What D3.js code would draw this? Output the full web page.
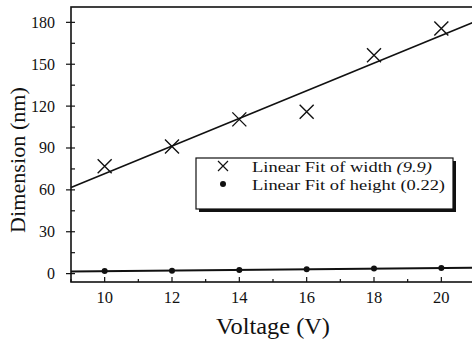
<!DOCTYPE html>
<html>
<head>
<meta charset="UTF-8">
<style>
  body { margin: 0; background: white; }
</style>
</head>
<body>
<svg id="chart" width="472" height="341"></svg>
<script src="https://d3js.org/d3.v7.min.js"></script>
<script>
// data
let voltage = [10, 12, 14, 16, 18, 20];
let widthNm = [77, 91, 110.5, 116, 156.5, 175.6];
let heightNm = [1.8, 2.1, 2.6, 3.1, 3.6, 4.0];
let fits = [
  {name: "width", slope: 9.9, label: "Linear Fit of width ", tag: "(9.9)"},
  {name: "height", slope: 0.22, label: "Linear Fit of height ", tag: "(0.22)"}
];
let xTicks = [10, 12, 14, 16, 18, 20];
let yTicks = [0, 30, 60, 90, 120, 150, 180];

let serif = "'Liberation Serif', 'Times New Roman', Tinos, Times, serif";
let svg = d3.select("#chart").attr("font-family", serif);
let mLeft = 71, mRight = 475, mTop = 7, mBottom = 282;

let x = d3.scaleLinear().domain([9, 21]).range([mLeft, mRight]);
let y = d3.scaleLinear().domain([-6, 191]).range([mBottom, mTop]);

// least squares intercept using given slope
function fitLine(xs, ys, slope) {
  let mx = d3.mean(xs), my = d3.mean(ys);
  let b = my - slope * mx;
  return [[9, b + slope * 9], [21, b + slope * 21]];
}

// frame
svg.append("rect")
  .attr("x", mLeft).attr("y", mTop)
  .attr("width", mRight - mLeft).attr("height", mBottom - mTop)
  .attr("fill", "none").attr("stroke", "#111").attr("stroke-width", 1.6);

// y axis ticks
let yMinor = d3.range(15, 181, 30);
svg.append("g").selectAll("line").data(yTicks).enter().append("line")
  .attr("x1", mLeft - 5).attr("x2", mLeft + 4)
  .attr("y1", d => y(d)).attr("y2", d => y(d))
  .attr("stroke", "#111").attr("stroke-width", 1.2);
svg.append("g").selectAll("line").data(yMinor).enter().append("line")
  .attr("x1", mLeft).attr("x2", mLeft + 4)
  .attr("y1", d => y(d)).attr("y2", d => y(d))
  .attr("stroke", "#111").attr("stroke-width", 1.2);
svg.append("g").selectAll("text").data(yTicks).enter().append("text")
  .attr("x", mLeft - 16).attr("y", d => y(d) + 5.5)
  .attr("text-anchor", "end").attr("font-size", 16)
  .attr("fill", "#111")
  .text(d => d);

// x axis ticks
let xMinor = [9, 11, 13, 15, 17, 19, 21];
svg.append("g").selectAll("line").data(xTicks).enter().append("line")
  .attr("x1", d => x(d)).attr("x2", d => x(d))
  .attr("y1", mBottom).attr("y2", mBottom - 5)
  .attr("stroke", "#111").attr("stroke-width", 1.2);
svg.append("g").selectAll("line").data(xMinor).enter().append("line")
  .attr("x1", d => x(d)).attr("x2", d => x(d))
  .attr("y1", mBottom).attr("y2", mBottom - 3)
  .attr("stroke", "#111").attr("stroke-width", 1.2);
svg.append("g").selectAll("text").data(xTicks).enter().append("text")
  .attr("x", d => x(d)).attr("y", mBottom + 21)
  .attr("text-anchor", "middle").attr("font-size", 16.5)
  .attr("fill", "#111")
  .text(d => d);

// axis titles
svg.append("text")
  .attr("x", (mLeft + mRight) / 2).attr("y", 334)
  .attr("text-anchor", "middle").attr("font-size", 24)
  .attr("textLength", 114).attr("lengthAdjust", "spacingAndGlyphs")
  .attr("fill", "#111")
  .text("Voltage (V)");
svg.append("text")
  .attr("transform", "translate(25,160) rotate(-90)")
  .attr("text-anchor", "middle").attr("font-size", 22)
  .attr("textLength", 146).attr("lengthAdjust", "spacingAndGlyphs")
  .attr("fill", "#111")
  .text("Dimension (nm)");

// fit lines
let line = d3.line().x(d => x(d[0])).y(d => y(d[1]));
let plot = svg.append("g");
plot.append("path")
  .attr("d", line(fitLine(voltage, widthNm, fits[0].slope)))
  .attr("fill", "none").attr("stroke", "#111").attr("stroke-width", 1.6);
plot.append("path")
  .attr("d", line(fitLine(voltage, heightNm, fits[1].slope)))
  .attr("fill", "none").attr("stroke", "#111").attr("stroke-width", 2);

// width markers (crosses)
let s = 7;
plot.selectAll("path.cross").data(voltage).enter().append("path")
  .attr("class", "cross")
  .attr("d", (d, i) => {
    let cx = x(d), cy = y(widthNm[i]);
    return `M${cx - s},${cy - s}L${cx + s},${cy + s}M${cx - s},${cy + s}L${cx + s},${cy - s}`;
  })
  .attr("stroke", "#111").attr("stroke-width", 1.4).attr("fill", "none");

// height markers (dots)
plot.selectAll("circle").data(voltage).enter().append("circle")
  .attr("cx", d => x(d)).attr("cy", (d, i) => y(heightNm[i]))
  .attr("r", 3).attr("fill", "#111");

// legend
let lg = svg.append("g");
lg.append("rect").attr("x", 199).attr("y", 161).attr("width", 257).attr("height", 51).attr("fill", "#111");
lg.append("rect").attr("x", 196).attr("y", 158).attr("width", 257).attr("height", 51)
  .attr("fill", "white").attr("stroke", "#111").attr("stroke-width", 1.2);
let rows = [166, 184];
let textLens = [180, 193];
let lx = 223;
lg.append("path")
  .attr("d", `M${lx - 5},${rows[0] - 5}L${lx + 5},${rows[0] + 5}M${lx - 5},${rows[0] + 5}L${lx + 5},${rows[0] - 5}`)
  .attr("stroke", "#111").attr("stroke-width", 1.2);
lg.append("circle").attr("cx", lx).attr("cy", rows[1]).attr("r", 3).attr("fill", "#111");
fits.forEach((f, i) => {
  let t = lg.append("text").attr("x", 252).attr("y", rows[i] + 5.5)
    .attr("font-size", 15.5).attr("fill", "#111")
    .attr("textLength", textLens[i]).attr("lengthAdjust", "spacingAndGlyphs");
  t.append("tspan").text(f.label);
  t.append("tspan").attr("font-style", i == 0 ? "italic" : "normal").text(f.tag);
});
</script>
</body>
</html>
